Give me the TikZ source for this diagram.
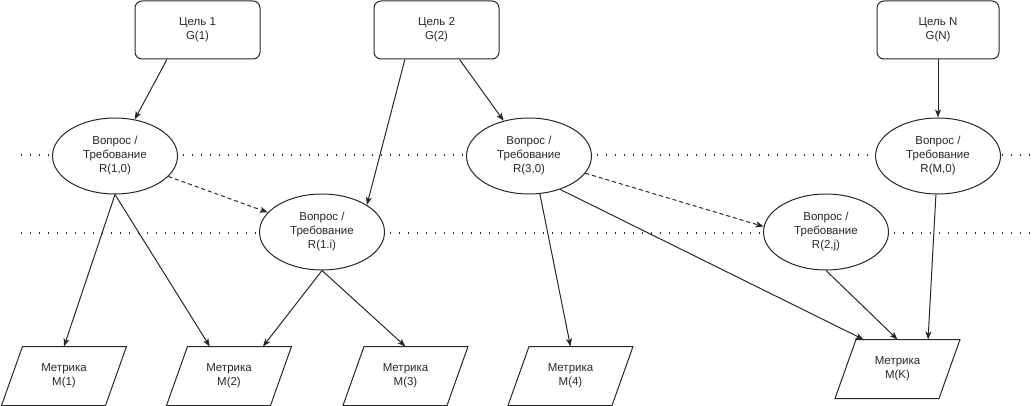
\documentclass[tikz,border=0pt]{standalone}
\usepackage{fontspec}
\setmainfont{Liberation Sans}
\usetikzlibrary{shapes.geometric,arrows.meta}
\definecolor{ink}{RGB}{40, 40, 40}

\begin{document}
\begin{tikzpicture}[x=1pt, y=-1pt, ink, line width=1pt,
    font=\fontsize{11.5}{14}\selectfont,
    goal/.style={draw, rounded corners=7pt, minimum width=125pt, minimum height=58pt, align=center},
    question/.style={draw, fill=white, ellipse, inner sep=0pt, minimum width=125pt, minimum height=76pt, align=center},
    metric/.style={inner sep=0pt, minimum width=103pt, minimum height=58pt, align=center,
                   append after command={\pgfextra{\draw ([xshift=-10.5pt]\tikzlastnode.south west)
                       -- ([xshift=-10.5pt]\tikzlastnode.south east) -- ([xshift=10.5pt]\tikzlastnode.north east)
                       -- ([xshift=10.5pt]\tikzlastnode.north west) -- cycle;}}},
    link/.style={-{Stealth[length=8pt, width=6pt, inset=2pt]}},
    refine/.style={link, dash pattern=on 4pt off 3pt},
    divider/.style={line width=1.4pt, dash pattern=on 1.4pt off 7.6pt}]
        \useasboundingbox (0,0) rectangle (1032,406);
            % dotted levels behind the questions
            \draw[divider] (  21.0, 155.0) -- (1032.0, 155.0);
            \draw[divider] (  21.0, 233.0) -- (1032.0, 233.0);
            % goals
            \node[goal]                     (g1)  at ( 197.5,  30.0) {Цель 1\\G(1)};
            \node[goal]                     (g2)  at ( 436.5,  30.0) {Цель 2\\G(2)};
            \node[goal, minimum width=122pt](gn)  at ( 938.0,  30.0) {Цель N\\G(N)};
            % questions
            \node[question]                 (r10) at ( 115.0, 156.0) {Вопрос /\\Требование\\R(1,0)};
            \node[question]                 (r1i) at ( 322.0, 232.0) {Вопрос /\\Требование\\R(1.i)};
            \node[question]                 (r30) at ( 529.0, 156.0) {Вопрос /\\Требование\\R(3,0)};
            \node[question]                 (r2j) at ( 826.0, 232.0) {Вопрос /\\Требование\\R(2,j)};
            \node[question]                 (rm0) at ( 938.0, 156.0) {Вопрос /\\Требование\\R(M,0)};
            % metrics
            \node[metric]                   (m1)  at (  64.0, 376.0) {Метрика\\M(1)};
            \node[metric]                   (m2)  at ( 229.0, 376.0) {Метрика\\M(2)};
            \node[metric]                   (m3)  at ( 405.5, 376.0) {Метрика\\M(3)};
            \node[metric]                   (m4)  at ( 570.5, 376.0) {Метрика\\M(4)};
            \node[metric]                   (mk)  at ( 897.5, 369.0) {Метрика\\M(K)};
            % goal -> question
            \draw[link]   (g1.-136)   -- (r10);
            \draw[link]   (g2.-137)   -- (r1i.31);
            \draw[link]   (g2.-52)    -- (r30);
            \draw[link]   (gn)        -- (rm0);
            % question -> refined question
            \draw[refine] (r10.-21)   -- (r1i);
            \draw[refine] (r30.-17)   -- (r2j.175);
            % question -> metric
            \draw[link]   (r10.south) -- (m1.north);
            \draw[link]   (r10.south) -- (m2.123);
            \draw[link]   (r1i.south) -- (m2.41);
            \draw[link]   (r1i.south) -- (m3.north);
            \draw[link]   (r30.-74)   -- (m4.north);
            \draw[link]   (r30.-47)   -- (mk.139);
            \draw[link]   (r2j.south) -- (mk.north);
            \draw[link]   (rm0)       -- (mk.44);
        \end{tikzpicture}
\end{document}
